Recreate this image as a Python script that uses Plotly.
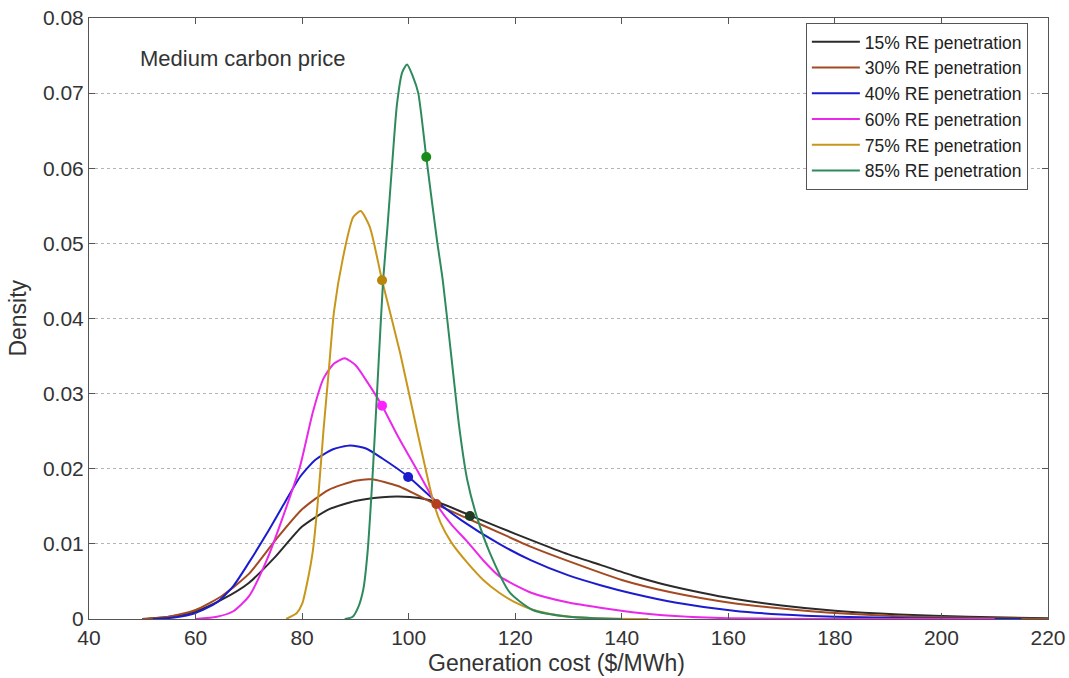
import plotly.graph_objects as go

# ---- data ----
labels = ["15% RE penetration", "30% RE penetration", "40% RE penetration",
          "60% RE penetration", "75% RE penetration", "85% RE penetration"]

s15_x = [50, 55, 60, 65, 70, 75, 80, 85, 90, 95, 98, 102, 106, 111.5, 117, 123, 130, 136, 142, 148, 155, 161, 170, 180, 192, 205, 220]
s15_y = [0, 0.0003, 0.0010, 0.0026, 0.0048, 0.0083, 0.0123, 0.0146, 0.0157, 0.0162, 0.0163, 0.0161, 0.0154, 0.0138, 0.0122, 0.0105, 0.0086, 0.0072, 0.0058, 0.0046, 0.0035, 0.0027, 0.0018, 0.0011, 0.0006, 0.0003, 0.0001]

s30_x = [50, 55, 60, 65, 70, 75, 80, 85, 90, 93, 98, 105, 111, 117, 123, 130, 140, 149, 161, 170, 180, 195, 210, 220]
s30_y = [0, 0.0003, 0.0012, 0.0031, 0.0060, 0.0105, 0.0146, 0.0172, 0.0184, 0.0186, 0.0177, 0.0153, 0.0134, 0.0115, 0.0096, 0.0077, 0.0052, 0.0036, 0.0021, 0.0014, 0.0008, 0.0003, 0.0001, 0]

s40_x = [52, 56, 60, 64, 67, 70, 73.4, 76.5, 79.6, 82.5, 85.8, 89, 92, 95, 100, 104.6, 110, 117, 123, 130, 136, 142, 150, 161, 170, 180, 195, 215]
s40_y = [0, 0.0002, 0.0008, 0.0022, 0.0043, 0.0075, 0.0114, 0.0152, 0.0189, 0.0212, 0.0226, 0.0231, 0.0227, 0.0214, 0.0189, 0.0160, 0.0131, 0.0100, 0.0078, 0.0058, 0.0045, 0.0034, 0.0022, 0.0011, 0.0006, 0.0003, 0.0001, 0]

s60_x = [60, 64, 67, 70, 73.4, 76.4, 79.6, 82, 84, 86, 88, 90, 92, 95, 98, 101.6, 105, 108, 111, 114, 117, 123, 130, 142, 150, 160, 180, 210]
s60_y = [0, 0.0003, 0.0010, 0.0030, 0.0079, 0.0136, 0.0203, 0.0275, 0.0320, 0.0340, 0.0347, 0.0338, 0.0318, 0.0284, 0.0243, 0.0198, 0.0155, 0.0126, 0.0103, 0.0078, 0.0057, 0.0035, 0.0022, 0.0009, 0.0004, 0.0001, 0, 0]

s75_x = [77, 79, 80, 81, 82, 83, 84, 85, 86, 87.7, 89.6, 91, 92.7, 95, 98.4, 101.6, 104.6, 106, 108, 111, 114, 117, 120, 123, 128, 135, 145]
s75_y = [0, 0.0008, 0.002, 0.005, 0.009, 0.016, 0.025, 0.033, 0.041, 0.0482, 0.0535, 0.0543, 0.0522, 0.0451, 0.0354, 0.0250, 0.0157, 0.0128, 0.0102, 0.0075, 0.0052, 0.0035, 0.0022, 0.0013, 0.0005, 0.0001, 0]

s85_x = [88, 89.5, 90.5, 91.5, 92.3, 93.3, 94.2, 95.2, 96, 96.9, 97.8, 98.8, 99.7, 100.8, 101.8, 103.3, 105.3, 106.4, 108, 109.5, 111, 112.8, 115.3, 119, 123.3, 130, 140]
s85_y = [0, 0.0003, 0.0015, 0.004, 0.009, 0.020, 0.032, 0.0450, 0.052, 0.0605, 0.0685, 0.0728, 0.0738, 0.0722, 0.0700, 0.0615, 0.0505, 0.0451, 0.0350, 0.0255, 0.0185, 0.0136, 0.0087, 0.0035, 0.0012, 0.0003, 0]

marker_x = [111.5, 105.2, 99.9, 95.0, 95.0, 103.3]
marker_y = [0.0137, 0.0153, 0.0189, 0.0284, 0.0451, 0.0615]

x_ticks = [40, 60, 80, 100, 120, 140, 160, 180, 200, 220]
y_ticks = [0, 0.01, 0.02, 0.03, 0.04, 0.05, 0.06, 0.07, 0.08]
y_ticktext = ["0", "0.01", "0.02", "0.03", "0.04", "0.05", "0.06", "0.07", "0.08"]

# ---- styles ----
line_colors = ["#2b2b2b", "#a34a22", "#1c1ccf", "#ea28ea", "#c9961c", "#2e8a5c"]
marker_colors = ["#1f3a22", "#b2401c", "#1c1ccf", "#ff22ff", "#b8860b", "#1a8c1a"]
FONT = "Liberation Sans, Arial, sans-serif"

series = [(s15_x, s15_y), (s30_x, s30_y), (s40_x, s40_y),
          (s60_x, s60_y), (s75_x, s75_y), (s85_x, s85_y)]

fig = go.Figure()
for (xs, ys), name, c in zip(series, labels, line_colors):
    fig.add_trace(go.Scatter(x=xs, y=ys, mode="lines", name=name,
                             line=dict(color=c, width=2, shape="spline", smoothing=0.6)))
for mx, my, c in zip(marker_x, marker_y, marker_colors):
    fig.add_trace(go.Scatter(x=[mx], y=[my], mode="markers", showlegend=False,
                             marker=dict(color=c, size=10, symbol="circle")))

fig.update_layout(
    width=1069, height=678,
    margin=dict(l=89, r=21, t=18, b=59, autoexpand=False),
    paper_bgcolor="white", plot_bgcolor="white",
    font=dict(family=FONT, color="#333333"),
    legend=dict(x=0.979, y=0.992, xanchor="right", yanchor="top",
                bgcolor="white", bordercolor="#555555", borderwidth=1,
                itemwidth=48,
                font=dict(size=17.5, family=FONT, color="#222222")),
    annotations=[
        dict(text="Medium carbon price", x=49.2, y=0.0746, xref="x", yref="y",
             xanchor="left", yanchor="middle", showarrow=False,
             font=dict(size=22, family=FONT, color="#333333")),
        dict(text="Generation cost ($/MWh)", x=0.488, y=-0.073, xref="paper", yref="paper",
             xanchor="center", yanchor="middle", showarrow=False,
             font=dict(size=23, family=FONT, color="#333333")),
        dict(text="Density", x=-0.075, y=0.5, xref="paper", yref="paper",
             xanchor="center", yanchor="middle", showarrow=False, textangle=-90,
             font=dict(size=23, family=FONT, color="#333333")),
    ],
)

fig.update_xaxes(range=[40, 220], tickvals=x_ticks, showgrid=False, zeroline=False,
                 automargin=False,
                 showline=True, linecolor="#555555", linewidth=1, mirror="allticks",
                 ticks="inside", ticklen=6, tickcolor="#555555",
                 tickfont=dict(size=21, family=FONT, color="#333333"))
fig.update_yaxes(range=[0, 0.08], tickvals=y_ticks, ticktext=y_ticktext, zeroline=False,
                 automargin=False,
                 showgrid=True, gridcolor="#b5b5b5", griddash="dot", gridwidth=1,
                 showline=True, linecolor="#555555", linewidth=1, mirror="allticks",
                 ticks="inside", ticklen=6, tickcolor="#555555",
                 tickfont=dict(size=21, family=FONT, color="#333333"))

fig.write_html("out.html", config={"displayModeBar": False},
               post_script="document.body.style.margin='0';document.body.style.overflow='hidden';")
